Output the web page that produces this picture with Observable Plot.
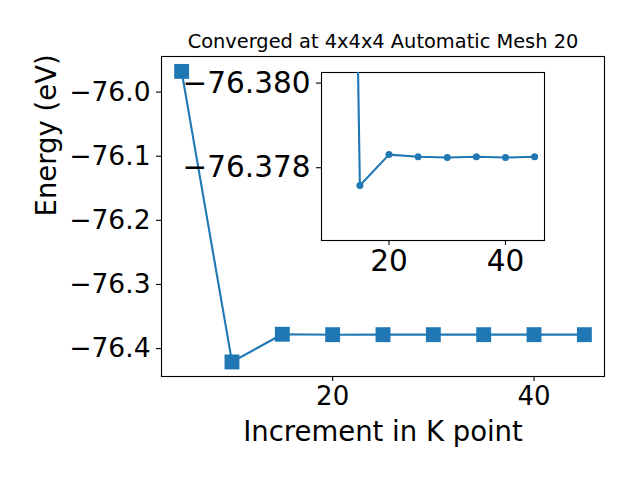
<!DOCTYPE html>
<html><head><meta charset="utf-8">
<script src="https://cdn.jsdelivr.net/npm/d3@7"></script>
<script src="https://cdn.jsdelivr.net/npm/@observablehq/plot@0.6"></script>
<style>
body{margin:0;background:white}
#wrap{position:relative;width:640px;height:480px}
#wrap svg{position:absolute;left:0;top:0}
</style>
</head><body><div id="wrap"></div>
<script>
const kpoints = [5, 10, 15, 20, 25, 30, 35, 40, 45];
const energies = [-75.9677, -76.4208, -76.37758, -76.37831, -76.37826, -76.37824, -76.37826, -76.37824, -76.37826];
const insetKpoints = [10, 15, 20, 25, 30, 35, 40, 45];
const mainXTicks = [20, 40];
const mainYTicks = [-76.0, -76.1, -76.2, -76.3, -76.4];
const insetXTicks = [20, 40];
const insetYTicks = [-76.380, -76.378];
const titleText = "Converged at 4x4x4 Automatic Mesh 20";
const xLabel = "Increment in K point";
const yLabel = "Energy (eV)";

const data = kpoints.map((k, i) => ({k, e: energies[i]}));
const insetData = data.filter(d => insetKpoints.includes(d.k));
const minus = s => s.replace("-", "\u2212");
const blue = "#1f77b4";
const font = "'DejaVu Sans', sans-serif";

const main = Plot.plot({
  width: 640, height: 480,
  marginLeft: 161, marginRight: 36, marginTop: 56, marginBottom: 104,
  style: {fontFamily: font, background: "transparent", color: "black", overflow: "visible"},
  x: {domain: [3, 47]},
  y: {domain: [-76.4435, -75.9445]},
  marks: [
    Plot.frame({stroke: "black", strokeWidth: 1.1}),
    Plot.axisX({ticks: mainXTicks, tickSize: 5, tickPadding: 5, fontSize: 26, label: null, tickFormat: d => String(d), strokeWidth: 1.1}),
    Plot.axisY({ticks: mainYTicks, tickSize: 5, tickPadding: 6, fontSize: 26.5, label: null, tickFormat: d => minus(d.toFixed(1)), strokeWidth: 1.1}),
    Plot.line(data, {x: "k", y: "e", stroke: blue, strokeWidth: 2.1}),
    Plot.dot(data, {x: "k", y: "e", symbol: "square", r: 8.4, fill: blue, stroke: null}),
    Plot.text([titleText], {text: d => d, frameAnchor: "top", lineAnchor: "bottom", dy: -8.7, fontSize: 19.4}),
    Plot.text([xLabel], {text: d => d, frameAnchor: "bottom", lineAnchor: "bottom", dy: 64, fontSize: 27.5}),
    Plot.text([yLabel], {text: d => d, frameAnchor: "left", rotate: -90, dx: -114.6, fontSize: 27.5})
  ]
});

const inset = Plot.plot({
  width: 640, height: 480,
  marginLeft: 321, marginRight: 96, marginTop: 72, marginBottom: 240,
  style: {fontFamily: font, background: "transparent", color: "black", overflow: "visible", pointerEvents: "none"},
  x: {domain: [8.41, 46.7]},
  y: {domain: [-76.38025, -76.37628], reverse: true},
  marks: [
    Plot.frame({stroke: "black", strokeWidth: 1.1}),
    Plot.axisX({ticks: insetXTicks, tickSize: 5, tickPadding: 5, fontSize: 29.5, label: null, tickFormat: d => String(d), strokeWidth: 1.1}),
    Plot.axisY({ticks: insetYTicks, tickSize: 5, tickPadding: 6, fontSize: 29.5, label: null, tickFormat: d => minus(d.toFixed(3)), strokeWidth: 1.1}),
    Plot.line(insetData, {x: "k", y: "e", stroke: blue, strokeWidth: 2.1, clip: true}),
    Plot.dot(insetData, {x: "k", y: "e", r: 3.5, fill: blue, stroke: null, clip: true})
  ]
});

const wrap = document.getElementById("wrap");
wrap.appendChild(main);
wrap.appendChild(inset);
</script>
</body></html>
